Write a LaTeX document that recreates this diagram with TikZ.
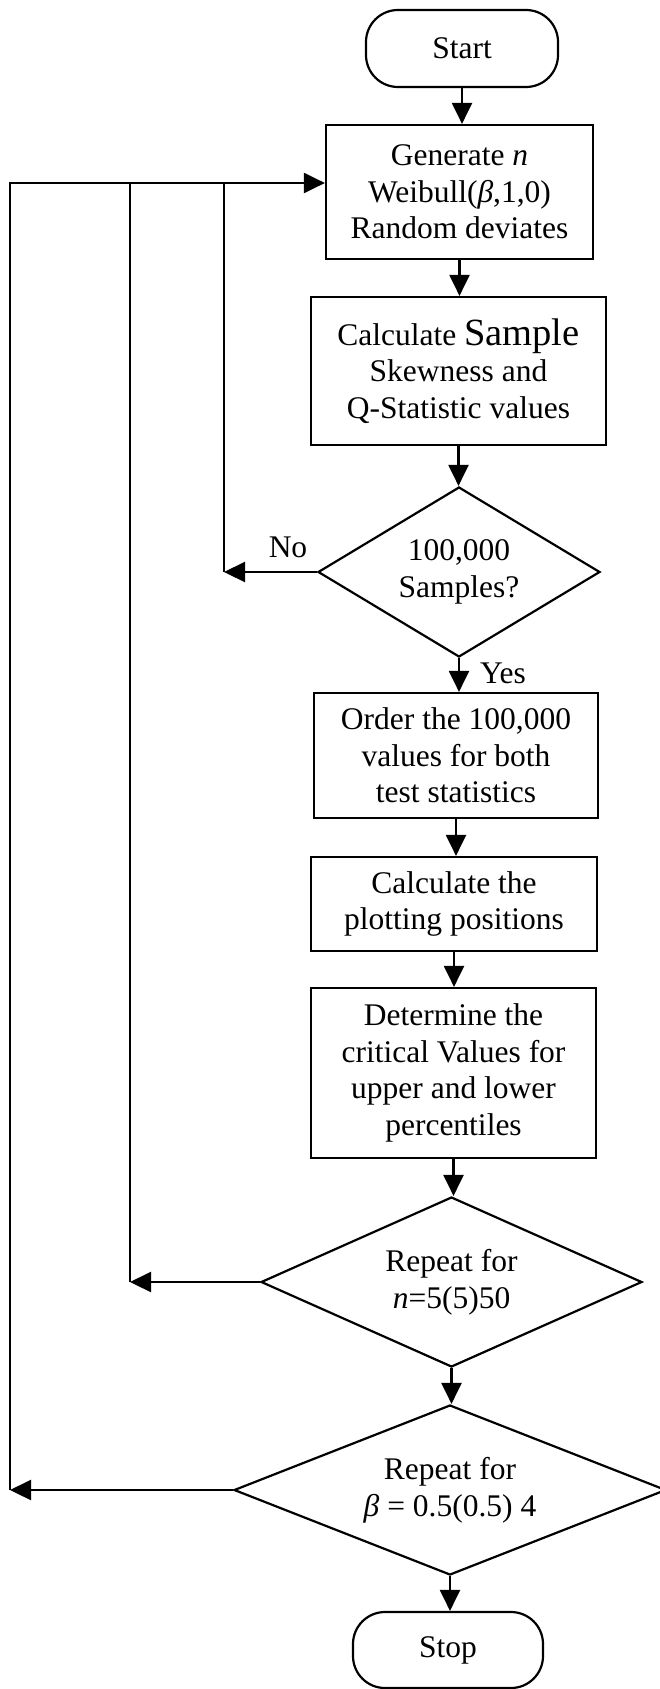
\documentclass[tikz,border=0pt]{standalone}
\usepackage{fontspec}
\setmainfont{Liberation Serif}
\usetikzlibrary{shapes.geometric,arrows.meta}
\begin{document}
\begin{tikzpicture}[x=1pt,y=-1pt,
  line width=2.2pt,
  every node/.style={font=\fontsize{31.5}{36.5}\selectfont, align=center, inner sep=0pt},
  procbox/.style={draw, rectangle, line width=2.2pt},
  termbox/.style={draw, rectangle, rounded corners=32pt, line width=2.2pt},
  decbox/.style={draw, diamond, line width=2.2pt},
  arr/.style={-{Triangle[length=21pt,width=20pt]}},
  lab/.style={font=\fontsize{31.5}{36.5}\selectfont}
]
\useasboundingbox (0,0) rectangle (660,1689);

\node[termbox, minimum width=192pt, minimum height=77pt] (start) at (462,48.5) {Start};
\node[procbox, minimum width=267pt, minimum height=134pt] (gen) at (459.5,192)
  {Generate \textit{n}\\Weibull(\textit{β},1,0)\\Random deviates};
\node[procbox, minimum width=295pt, minimum height=148pt] (calc) at (458.5,371)
  {Calculate {\fontsize{38.5}{36.5}\selectfont Sample}\\Skewness and\\Q-Statistic values};
\node[decbox, shape aspect=1.66, minimum width=282pt, minimum height=170pt] (d1) at (459,572)
  {100,000\\Samples?};
\node[procbox, minimum width=284pt, minimum height=125pt] (order) at (456,755.5)
  {Order the 100,000\\values for both\\test statistics};
\node[procbox, minimum width=286pt, minimum height=94pt] (plot) at (454,904)
  {Calculate the\\plotting positions};
\node[procbox, minimum width=285pt, minimum height=170pt] (det) at (453.5,1073)
  {Determine the\\critical Values for\\upper and lower\\percentiles};
\node[decbox, shape aspect=2.24, minimum width=381pt, minimum height=170pt] (d2) at (451.5,1282)
  {Repeat for\\\textit{n}=5(5)50};
\node[decbox, shape aspect=2.54, minimum width=432pt, minimum height=170pt] (d3) at (450,1490)
  {Repeat for\\\textit{β} = 0.5(0.5) 4};
\node[termbox, minimum width=190pt, minimum height=76pt] (stop) at (448,1650) {Stop};

\node[lab] (no) at (288,547) {No};
\node[lab] (yes) at (503,673) {Yes};

% main flow
\draw[arr] (start.south) -- (start.south |- gen.north);
\draw[arr] (gen.south) -- (gen.south |- calc.north);
\draw[arr] (calc.south) -- (calc.south |- d1.north);
\draw[arr] (d1.south) -- (d1.south |- order.north);
\draw[arr] (order.south) -- (order.south |- plot.north);
\draw[arr] (plot.south) -- (plot.south |- det.north);
\draw[arr] (det.south) -- (det.south |- d2.north);
\draw[arr] (d2.south) -- (d2.south |- d3.north);
\draw[arr] (d3.south) -- (d3.south |- stop.north);

% loops
\coordinate (t1) at (224,183);
\coordinate (t2) at (130,183);
\coordinate (t3) at (10,183);
\coordinate (e1) at (224,572);
\coordinate (e2) at (130,1282);
\coordinate (e3) at (10,1490);

\draw[arr] (d1.west) -- (e1);
\draw[arr] (d2.west) -- (e2);
\draw[arr] (d3.west) -- (e3);
\draw (e1) -- (t1);
\draw (e2) -- (t2);
\draw[line join=miter] (e3) -- (t3) -- (t1);
\draw[arr] (t1) -- (t1 -| gen.west);
\end{tikzpicture}
\end{document}
